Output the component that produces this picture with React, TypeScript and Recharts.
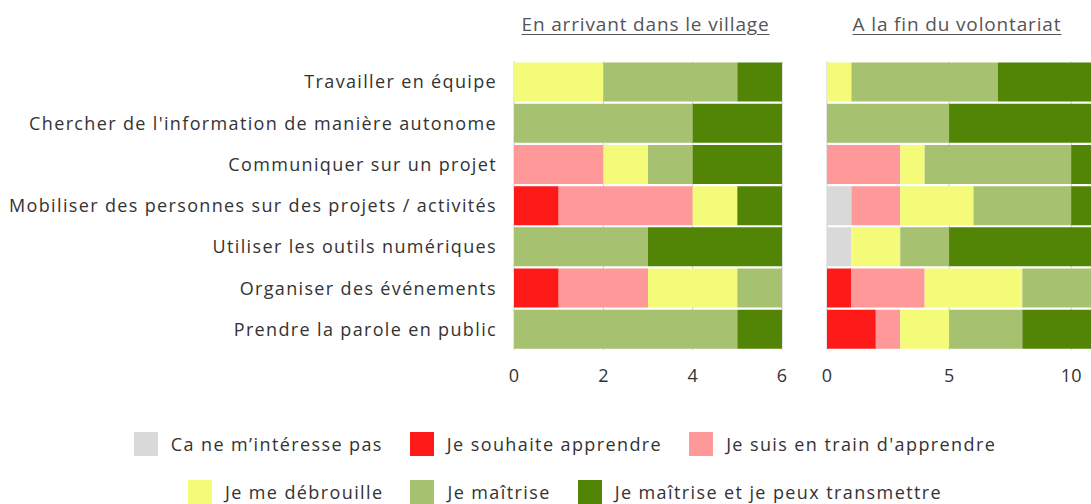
import React from 'react';
import { BarChart, Bar, XAxis, YAxis, CartesianGrid } from 'recharts';

// skills (rows, top to bottom)
const skills = [
  'Travailler en équipe',
  "Chercher de l'information de manière autonome",
  'Communiquer sur un projet',
  'Mobiliser des personnes sur des projets / activités',
  'Utiliser les outils numériques',
  'Organiser des événements',
  'Prendre la parole en public',
];

const levels = [
  'Ca ne m\u2019intéresse pas',
  'Je souhaite apprendre',
  "Je suis en train d'apprendre",
  'Je me débrouille',
  'Je maîtrise',
  'Je maîtrise et je peux transmettre',
];
const levelColors = ['#d9d9d9', '#ff1a1a', '#ff9999', '#f3fb79', '#a6c16f', '#528406'];

// counts per level, "En arrivant dans le village"
const beforeGrey = [0, 0, 0, 0, 0, 0, 0];
const beforeRed = [0, 0, 0, 1, 0, 1, 0];
const beforePink = [0, 0, 2, 3, 0, 2, 0];
const beforeYellow = [2, 0, 1, 1, 0, 2, 0];
const beforeLight = [3, 4, 1, 0, 3, 1, 5];
const beforeDark = [1, 2, 2, 1, 3, 0, 1];

// counts per level, "A la fin du volontariat"
const afterGrey = [0, 0, 0, 1, 1, 0, 0];
const afterRed = [0, 0, 0, 0, 0, 1, 2];
const afterPink = [0, 0, 3, 2, 0, 3, 1];
const afterYellow = [1, 0, 1, 3, 2, 4, 2];
const afterLight = [6, 5, 6, 4, 2, 4, 3];
const afterDark = [5, 7, 2, 2, 7, 0, 4];

const beforeTicks = [0, 2, 4, 6];
const afterTicks = [0, 5, 10];

const FONT = '"Open Sans", Lato, sans-serif';

const buildRows = (series: number[][]) =>
  skills.map((name, i) => {
    const row: Record<string, string | number> = { name };
    series.forEach((s, k) => {
      row['l' + k] = s[i];
    });
    return row;
  });

const beforeData = buildRows([beforeGrey, beforeRed, beforePink, beforeYellow, beforeLight, beforeDark]);
const afterData = buildRows([afterGrey, afterRed, afterPink, afterYellow, afterLight, afterDark]);

const labelStyle = { fill: '#333', fontSize: 18, fontFamily: FONT, letterSpacing: 1.35 };
const numStyle = { fill: '#333', fontSize: 18, fontFamily: FONT };

const bars = () =>
  levels.map((lvl, k) => (
    <Bar
      key={lvl}
      dataKey={'l' + k}
      name={lvl}
      stackId="a"
      fill={levelColors[k]}
      isAnimationActive={false}
    />
  ));

const Title = ({ text, center }: { text: string; center: number }) => (
  <div
    style={{
      position: 'absolute',
      top: 5,
      left: center - 200,
      width: 400,
      textAlign: 'center',
      fontFamily: FONT,
      fontSize: 19,
      letterSpacing: 0.85,
      lineHeight: '22px',
      color: '#555',
      textDecoration: 'underline',
      textUnderlineOffset: 3,
    }}
  >
    {text}
  </div>
);

const LegendRow = ({ idx, top }: { idx: number[]; top: number }) => (
  <div
    style={{
      position: 'absolute',
      top,
      left: -8,
      width: 1130,
      display: 'flex',
      justifyContent: 'center',
      alignItems: 'center',
      gap: 27,
      fontFamily: FONT,
      fontSize: 18,
      letterSpacing: 1.4,
      color: '#333',
    }}
  >
    {idx.map((k) => (
      <div key={k} style={{ display: 'flex', alignItems: 'center', gap: 13 }}>
        <span style={{ width: 24, height: 24, background: levelColors[k], display: 'inline-block' }} />
        <span>{levels[k]}</span>
      </div>
    ))}
  </div>
);

const App = () => {
  return (
    <div
      style={{
        position: 'fixed',
        left: 0,
        top: 0,
        width: 1091,
        height: 504,
        overflow: 'hidden',
        background: '#fff',
      }}
    >
      <div style={{ position: 'absolute', left: 8, top: 8, width: 1083, height: 496 }}>
        <Title text="En arrivant dans le village" center={637.5} />
        <Title text="A la fin du volontariat" center={949} />

        <div style={{ position: 'absolute', left: 0, top: 0 }}>
          <BarChart
            layout="vertical"
            width={784}
            height={382}
            data={beforeData}
            margin={{ top: 53.5, right: 10, bottom: 0, left: 0 }}
            barCategoryGap={1}
          >
            <CartesianGrid horizontal={false} stroke="#cccccc" />
            <XAxis
              type="number"
              domain={[0, 6]}
              ticks={beforeTicks}
              interval={0}
              axisLine={false}
              tickLine={false}
              tickSize={0}
              tickMargin={19}
              height={40}
              tick={numStyle}
            />
            <YAxis
              type="category"
              dataKey="name"
              width={506}
              axisLine={false}
              tickLine={false}
              tickSize={0}
              tickMargin={17}
              tick={labelStyle}
              interval={0}
            />
            {bars()}
          </BarChart>
        </div>

        <div style={{ position: 'absolute', left: 809, top: 0 }}>
          <BarChart
            layout="vertical"
            width={313}
            height={382}
            data={afterData}
            margin={{ top: 53.5, right: 10, bottom: 0, left: 10 }}
            barCategoryGap={1}
          >
            <CartesianGrid horizontal={false} stroke="#cccccc" />
            <XAxis
              type="number"
              domain={[0, 12]}
              ticks={afterTicks}
              interval={0}
              axisLine={false}
              tickLine={false}
              tickSize={0}
              tickMargin={19}
              height={40}
              tick={numStyle}
            />
            <YAxis type="category" dataKey="name" hide />
            {bars()}
          </BarChart>
        </div>

        <LegendRow idx={[0, 1, 2]} top={424} />
        <LegendRow idx={[3, 4, 5]} top={472} />
      </div>
    </div>
  );
};

export default App;
